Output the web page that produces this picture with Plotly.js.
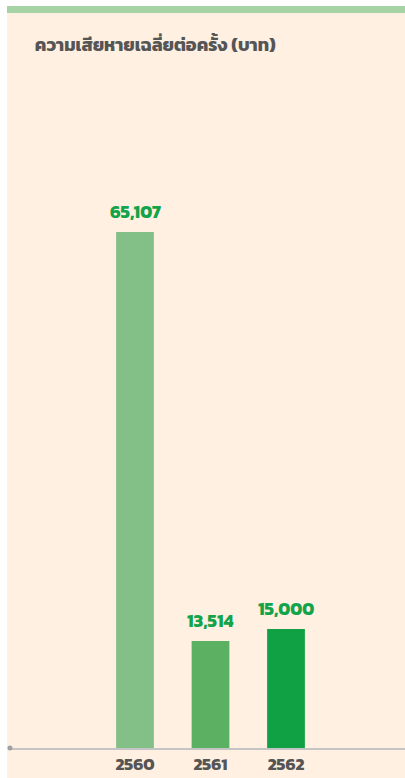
<!DOCTYPE html>
<html>
<head>
<meta charset="utf-8">
<script src="https://cdn.plot.ly/plotly-3.0.1.min.js"></script>
<style>
  html, body { margin: 0; padding: 0; background: #ffffff; width: 405px; height: 778px; overflow: hidden; }
  #band { position: absolute; left: 7px; top: 6px; width: 398px; height: 7px; background: #a6d3a3; }
  #chart { position: absolute; left: 7px; top: 13px; width: 398px; height: 765px; }
</style>
</head>
<body>
<div id="band"></div>
<div id="chart"></div>
<script>
const categories = ["2560", "2561", "2562"];
const values = [65107, 13514, 15000];
const barColors = ["#83c087", "#5bb062", "#0fa144"];
const chartTitle = "ความเสียหายเฉลี่ยต่อครั้ง (บาท)";

const FONT = "Kanit, Prompt, 'Noto Sans Thai', 'Noto Sans', sans-serif";

const trace = {
  type: "bar",
  x: categories,
  y: values,
  width: 0.5,
  marker: { color: barColors, line: { width: 0 } },
  hoverinfo: "skip"
};

const annotations = categories.map((c, i) => ({
  x: i,
  y: values[i],
  xref: "x",
  yref: "y",
  text: values[i].toLocaleString("en-US"),
  showarrow: false,
  yanchor: "bottom",
  yshift: 5,
  font: { family: FONT, size: 18, color: "#13a34a", weight: 700 }
}));

const layout = {
  width: 398,
  height: 765,
  margin: { l: 1, r: 0, t: 100, b: 30 },
  paper_bgcolor: "#fff0e1",
  plot_bgcolor: "#fff0e1",
  showlegend: false,
  title: {
    text: chartTitle,
    xref: "container",
    yref: "container",
    x: 0.07,
    xanchor: "left",
    y: 0.958,
    yanchor: "middle",
    font: { family: FONT, size: 18, color: "#555555", weight: 700 }
  },
  xaxis: {
    type: "category",
    range: [-1.682, 3.576],
    showline: true,
    linecolor: "#c4c4c4",
    linewidth: 1.5,
    showgrid: false,
    zeroline: false,
    ticks: "",
    tickfont: { family: FONT, size: 17, color: "#555555", weight: 700 },
    fixedrange: true
  },
  yaxis: {
    range: [0, 80120],
    visible: false,
    showgrid: false,
    zeroline: false,
    fixedrange: true
  },
  annotations: annotations,
  shapes: [{
    type: "circle",
    xref: "paper", yref: "paper",
    xsizemode: "pixel", ysizemode: "pixel",
    xanchor: 0.005, yanchor: 0,
    x0: -2.5, x1: 2.5, y0: -2.5, y1: 2.5,
    fillcolor: "#a0a0a0",
    line: { width: 0 }
  }],
  bargap: 0.5
};

Plotly.newPlot("chart", [trace], layout, { displayModeBar: false, staticPlot: true });
</script>
</body>
</html>
